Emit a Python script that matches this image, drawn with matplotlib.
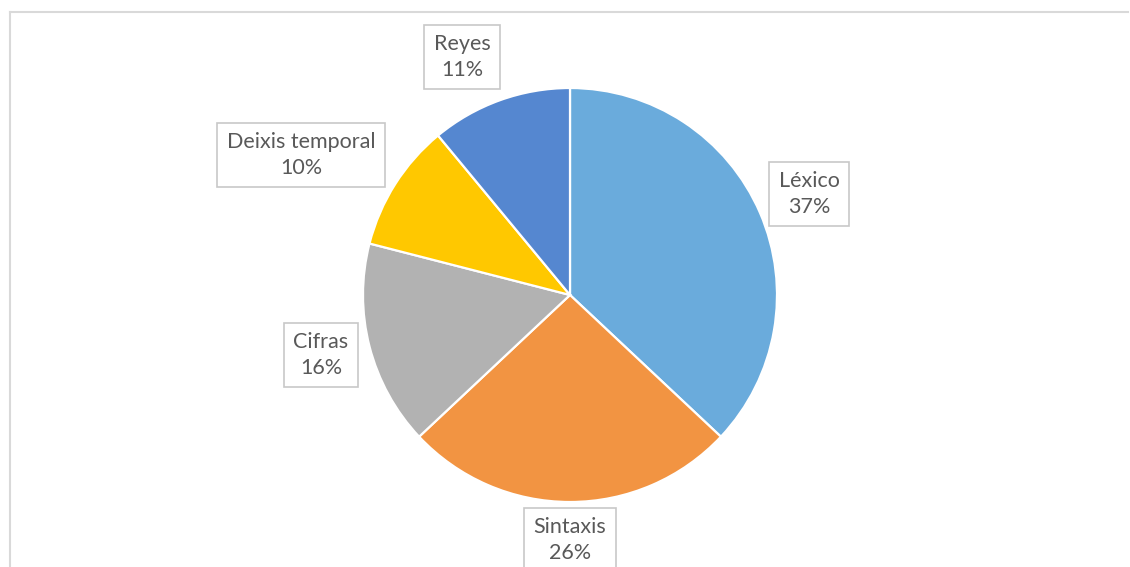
import matplotlib.pyplot as plt
from matplotlib.lines import Line2D

# datos del gráfico
categorias = ['Léxico', 'Sintaxis', 'Cifras', 'Deixis temporal', 'Reyes']
porcentajes = [37, 26, 16, 10, 11]
colores = ['#6AABDC', '#F29442', '#B2B2B2', '#FFC800', '#5587D0']

# posición de las etiquetas (px respecto al centro del pastel)
pos_etiquetas = [(239, 101), (0, -245), (-249, -60), (-269, 140), (-108, 238)]

W, H = 1130, 567
fig = plt.figure(figsize=(W / 100, H / 100), dpi=100)
ax = fig.add_axes([0, 0, 1, 1])

# marco del gráfico
fig.add_artist(Line2D([10 / W, 1128 / W], [1 - 12 / H, 1 - 12 / H],
                      color='#D9D9D9', lw=1.5))
fig.add_artist(Line2D([10 / W, 10 / W], [1 - 12 / H, 0],
                      color='#D9D9D9', lw=1.5))

cx, cy, r = 570, H - 295, 207
ax.pie(porcentajes, colors=colores, startangle=90, counterclock=False,
       center=(cx, cy), radius=r, frame=True,
       wedgeprops=dict(edgecolor='white', linewidth=1.6))
ax.set_xlim(0, W)
ax.set_ylim(0, H)
ax.set_aspect('equal')
ax.axis('off')

for nombre, pct, (dx, dy) in zip(categorias, porcentajes, pos_etiquetas):
    ax.text(cx + dx, cy + dy, f'{nombre}\n{pct}%', ha='center', va='center',
            fontsize=15.5, family='Lato', color='#595959', linespacing=1.35,
            bbox=dict(boxstyle='square,pad=0.45', facecolor='white',
                      edgecolor='#C8C8C8', linewidth=1.2))

fig.savefig('out.png', dpi=100)
